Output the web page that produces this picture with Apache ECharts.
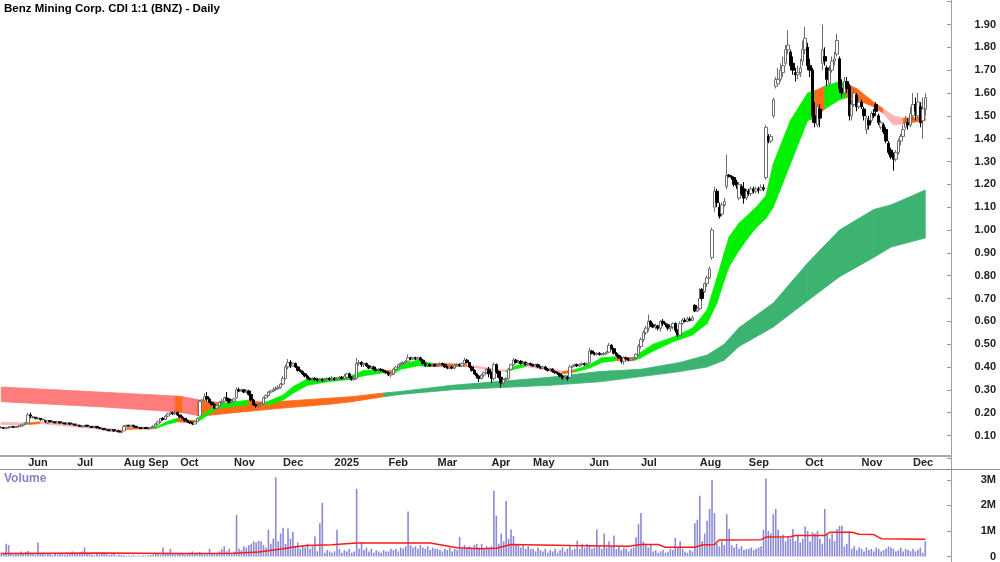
<!DOCTYPE html>
<html>
<head>
<meta charset="utf-8">
<title>BNZ Daily</title>
<script src="https://cdn.jsdelivr.net/npm/echarts@6/dist/echarts.min.js"></script>
<style>
  html, body { margin: 0; padding: 0; background: #fff; }
  #chart { width: 1000px; height: 562px; }
</style>
</head>
<body>
<div id="chart"></div>
<script>
// trading days on the axis; bars stop at day 377, the rest is empty room on the right
var dayCount = 388;
var monthStarts = [11, 31, 50, 60, 73, 95, 115, 136, 158, 178, 200, 217, 240, 261, 285, 305, 328, 351, 372];
var monthLabels = ['Jun', 'Jul', 'Aug', 'Sep', 'Oct', 'Nov', 'Dec', '2025', 'Feb', 'Mar', 'Apr', 'May', 'Jun', 'Jul', 'Aug', 'Sep', 'Oct', 'Nov', 'Dec'];

// daily bars [open, close, low, high]
var candles = [
  // late May 2024
  [0.135,0.135,0.13,0.14],[0.135,0.13,0.13,0.135],[0.13,0.135,0.13,0.135],[0.135,0.135,0.13,0.14],[0.135,0.14,0.135,0.14],
  [0.14,0.135,0.135,0.14],[0.135,0.14,0.135,0.14],[0.14,0.14,0.135,0.145],[0.14,0.145,0.14,0.15],[0.145,0.15,0.14,0.15],[0.15,0.155,0.145,0.16],
  // Jun
  [0.155,0.19,0.15,0.2],[0.19,0.185,0.175,0.2],[0.18,0.18,0.175,0.185],[0.18,0.175,0.17,0.18],[0.175,0.175,0.17,0.18],
  [0.175,0.17,0.165,0.175],[0.17,0.17,0.165,0.175],[0.165,0.16,0.155,0.165],[0.155,0.165,0.15,0.165],[0.165,0.16,0.16,0.165],
  [0.16,0.16,0.155,0.165],[0.16,0.155,0.155,0.16],[0.155,0.16,0.155,0.16],[0.16,0.155,0.15,0.16],[0.155,0.155,0.15,0.16],
  [0.155,0.15,0.15,0.155],[0.15,0.155,0.15,0.155],[0.155,0.15,0.145,0.155],[0.15,0.15,0.145,0.155],[0.15,0.145,0.145,0.15],
  // Jul
  [0.145,0.145,0.14,0.15],[0.145,0.14,0.14,0.145],[0.14,0.14,0.135,0.145],[0.14,0.145,0.135,0.145],[0.145,0.14,0.14,0.145],
  [0.14,0.14,0.135,0.14],[0.14,0.135,0.135,0.14],[0.135,0.14,0.135,0.14],[0.14,0.135,0.13,0.14],[0.135,0.13,0.13,0.135],
  [0.13,0.13,0.125,0.135],[0.13,0.125,0.125,0.13],[0.125,0.125,0.12,0.13],[0.125,0.12,0.12,0.125],[0.12,0.125,0.12,0.125],
  [0.125,0.12,0.115,0.125],[0.12,0.12,0.115,0.12],[0.12,0.115,0.115,0.12],[0.115,0.115,0.11,0.12],
  // Aug
  [0.12,0.14,0.12,0.145],[0.14,0.145,0.14,0.145],[0.145,0.14,0.14,0.145],[0.14,0.145,0.14,0.145],[0.145,0.14,0.135,0.145],
  [0.14,0.135,0.135,0.14],[0.135,0.135,0.13,0.135],[0.135,0.13,0.13,0.135],[0.13,0.135,0.13,0.135],[0.135,0.13,0.13,0.135],
  // Sep
  [0.13,0.13,0.125,0.135],[0.13,0.135,0.13,0.135],[0.135,0.14,0.13,0.145],[0.14,0.15,0.14,0.155],[0.15,0.16,0.145,0.165],
  [0.16,0.175,0.155,0.175],[0.175,0.17,0.165,0.18],[0.17,0.185,0.17,0.19],[0.185,0.195,0.18,0.2],[0.195,0.2,0.19,0.205],
  [0.2,0.195,0.19,0.205],[0.195,0.2,0.19,0.21],[0.2,0.19,0.185,0.205],
  // Oct
  [0.19,0.18,0.175,0.19],[0.18,0.175,0.17,0.185],[0.175,0.165,0.16,0.175],[0.165,0.16,0.155,0.17],[0.16,0.155,0.15,0.16],
  [0.155,0.15,0.145,0.16],[0.15,0.16,0.15,0.165],[0.16,0.175,0.16,0.18],[0.185,0.25,0.185,0.255],[0.25,0.255,0.24,0.26],
  [0.255,0.27,0.25,0.285],[0.27,0.26,0.25,0.29],[0.26,0.245,0.24,0.265],[0.245,0.235,0.23,0.25],[0.235,0.22,0.215,0.24],
  [0.22,0.23,0.215,0.235],[0.23,0.245,0.225,0.25],[0.245,0.25,0.24,0.26],[0.25,0.265,0.245,0.27],[0.265,0.26,0.25,0.29],
  [0.26,0.245,0.24,0.265],[0.245,0.25,0.24,0.26],
  // Nov
  [0.25,0.26,0.245,0.265],[0.265,0.3,0.26,0.31],[0.3,0.295,0.29,0.31],[0.295,0.3,0.29,0.305],[0.3,0.29,0.285,0.3],
  [0.29,0.295,0.285,0.3],[0.295,0.28,0.275,0.3],[0.28,0.255,0.25,0.28],[0.255,0.235,0.23,0.26],[0.235,0.23,0.22,0.24],
  [0.23,0.235,0.22,0.24],[0.235,0.24,0.23,0.245],[0.24,0.265,0.235,0.27],[0.265,0.275,0.26,0.28],[0.275,0.29,0.27,0.295],
  [0.29,0.295,0.285,0.3],[0.295,0.3,0.29,0.31],[0.3,0.305,0.295,0.315],[0.305,0.31,0.3,0.32],[0.31,0.325,0.305,0.33],
  // Dec
  [0.325,0.35,0.32,0.36],[0.35,0.4,0.345,0.41],[0.4,0.42,0.39,0.435],[0.42,0.405,0.395,0.43],[0.405,0.415,0.4,0.42],
  [0.415,0.4,0.395,0.42],[0.4,0.385,0.38,0.405],[0.385,0.38,0.375,0.39],[0.38,0.37,0.365,0.385],[0.37,0.36,0.355,0.375],
  [0.36,0.35,0.345,0.365],[0.35,0.345,0.34,0.355],[0.345,0.35,0.34,0.355],[0.35,0.345,0.34,0.355],[0.345,0.34,0.335,0.35],
  [0.34,0.345,0.335,0.35],[0.345,0.34,0.335,0.35],[0.34,0.345,0.335,0.35],[0.345,0.35,0.34,0.355],[0.35,0.345,0.34,0.355],
  [0.345,0.35,0.34,0.36],
  // Jan 2025
  [0.35,0.345,0.34,0.355],[0.345,0.35,0.34,0.355],[0.35,0.355,0.345,0.36],[0.355,0.35,0.345,0.36],[0.35,0.36,0.345,0.37],
  [0.355,0.37,0.345,0.375],[0.37,0.355,0.35,0.375],[0.355,0.345,0.34,0.36],[0.345,0.35,0.34,0.36],[0.35,0.415,0.345,0.44],
  [0.415,0.42,0.405,0.43],[0.42,0.41,0.4,0.425],[0.41,0.415,0.4,0.42],[0.415,0.405,0.4,0.42],[0.405,0.395,0.39,0.41],
  [0.395,0.4,0.39,0.405],[0.4,0.39,0.385,0.405],[0.39,0.385,0.38,0.395],[0.385,0.39,0.38,0.395],[0.39,0.385,0.38,0.395],
  [0.385,0.38,0.375,0.39],[0.38,0.375,0.37,0.385],
  // Feb
  [0.375,0.365,0.36,0.38],[0.365,0.37,0.355,0.375],[0.37,0.39,0.365,0.395],[0.39,0.4,0.385,0.405],[0.4,0.41,0.395,0.415],
  [0.41,0.415,0.405,0.42],[0.415,0.42,0.41,0.425],[0.42,0.425,0.415,0.43],[0.425,0.44,0.42,0.455],[0.44,0.435,0.43,0.445],
  [0.435,0.44,0.43,0.445],[0.44,0.435,0.43,0.445],[0.435,0.44,0.43,0.445],[0.44,0.43,0.425,0.445],[0.43,0.415,0.41,0.435],
  [0.415,0.405,0.4,0.42],[0.405,0.41,0.4,0.415],[0.41,0.405,0.4,0.415],[0.405,0.41,0.4,0.415],[0.41,0.405,0.4,0.415],
  // Mar
  [0.405,0.41,0.4,0.415],[0.41,0.415,0.405,0.42],[0.415,0.41,0.405,0.42],[0.41,0.4,0.395,0.415],[0.4,0.395,0.39,0.405],
  [0.395,0.4,0.39,0.405],[0.4,0.395,0.39,0.405],[0.395,0.405,0.39,0.41],[0.405,0.41,0.4,0.415],[0.41,0.405,0.4,0.415],
  [0.405,0.415,0.4,0.42],[0.415,0.43,0.41,0.44],[0.43,0.42,0.415,0.435],[0.42,0.4,0.395,0.42],[0.4,0.385,0.38,0.405],
  [0.385,0.37,0.365,0.39],[0.37,0.36,0.35,0.375],[0.36,0.35,0.335,0.365],[0.35,0.365,0.345,0.37],[0.365,0.375,0.355,0.38],
  [0.375,0.39,0.37,0.395],[0.39,0.37,0.355,0.4],
  // Apr
  [0.37,0.35,0.33,0.38],[0.35,0.41,0.34,0.42],[0.41,0.38,0.37,0.415],[0.38,0.355,0.35,0.385],[0.355,0.33,0.31,0.36],
  [0.33,0.345,0.32,0.35],[0.345,0.35,0.34,0.355],[0.35,0.39,0.345,0.395],[0.39,0.41,0.385,0.415],[0.41,0.43,0.405,0.44],
  [0.43,0.42,0.415,0.435],[0.42,0.425,0.415,0.43],[0.425,0.415,0.41,0.43],[0.415,0.42,0.41,0.425],[0.42,0.41,0.405,0.425],
  [0.41,0.415,0.405,0.42],[0.415,0.41,0.405,0.42],
  // May
  [0.41,0.405,0.4,0.415],[0.405,0.41,0.4,0.415],[0.41,0.4,0.395,0.415],[0.4,0.395,0.39,0.405],[0.395,0.4,0.39,0.405],
  [0.4,0.39,0.385,0.405],[0.39,0.385,0.38,0.395],[0.385,0.39,0.38,0.395],[0.39,0.38,0.375,0.395],[0.38,0.375,0.37,0.385],
  [0.375,0.37,0.365,0.38],[0.37,0.36,0.355,0.375],[0.36,0.35,0.345,0.365],[0.35,0.355,0.345,0.36],[0.355,0.35,0.34,0.36],
  [0.355,0.4,0.35,0.41],[0.4,0.405,0.395,0.41],[0.405,0.41,0.4,0.415],[0.41,0.405,0.4,0.415],[0.405,0.41,0.4,0.415],
  [0.41,0.415,0.405,0.42],[0.415,0.41,0.405,0.42],[0.41,0.415,0.405,0.42],
  // Jun
  [0.42,0.47,0.415,0.485],[0.47,0.46,0.455,0.475],[0.46,0.455,0.45,0.465],[0.455,0.46,0.45,0.465],[0.46,0.455,0.45,0.465],
  [0.455,0.455,0.45,0.46],[0.455,0.46,0.45,0.465],[0.46,0.465,0.455,0.47],[0.465,0.495,0.46,0.505],[0.495,0.48,0.475,0.5],
  [0.48,0.46,0.455,0.485],[0.46,0.45,0.445,0.465],[0.45,0.44,0.435,0.455],[0.44,0.425,0.415,0.445],[0.425,0.44,0.41,0.445],
  [0.44,0.435,0.43,0.445],[0.435,0.43,0.425,0.44],[0.43,0.435,0.425,0.44],[0.435,0.44,0.43,0.445],[0.44,0.455,0.43,0.46],
  [0.455,0.49,0.45,0.5],
  // Jul
  [0.49,0.52,0.48,0.53],[0.52,0.55,0.51,0.56],[0.55,0.57,0.54,0.58],[0.57,0.6,0.555,0.63],[0.6,0.585,0.575,0.605],
  [0.585,0.575,0.57,0.595],[0.575,0.58,0.565,0.59],[0.58,0.57,0.56,0.585],[0.57,0.6,0.555,0.605],[0.6,0.59,0.58,0.61],
  [0.59,0.585,0.575,0.595],[0.585,0.57,0.56,0.59],[0.57,0.575,0.555,0.58],[0.575,0.59,0.565,0.595],[0.59,0.56,0.55,0.595],
  [0.56,0.54,0.53,0.565],[0.54,0.59,0.535,0.6],[0.59,0.605,0.585,0.615],[0.605,0.6,0.595,0.615],[0.6,0.61,0.595,0.62],
  [0.61,0.605,0.6,0.62],[0.605,0.615,0.6,0.625],[0.67,0.645,0.64,0.675],[0.645,0.655,0.64,0.665],
  // Aug
  [0.655,0.7,0.65,0.745],[0.74,0.7,0.69,0.745],[0.73,0.765,0.725,0.77],[0.765,0.79,0.75,0.8],[0.79,0.83,0.785,0.84],
  [0.88,1.0,0.87,1.01],[1.1,1.17,1.08,1.19],[1.17,1.12,1.1,1.18],[1.1,1.06,1.05,1.12],[1.07,1.11,1.06,1.12],
  [1.11,1.125,1.1,1.14],[1.19,1.24,1.18,1.33],[1.24,1.235,1.23,1.245],[1.235,1.23,1.22,1.24],[1.23,1.2,1.19,1.235],
  [1.21,1.195,1.18,1.22],[1.14,1.2,1.13,1.21],[1.19,1.16,1.15,1.2],[1.18,1.14,1.115,1.21],[1.14,1.17,1.13,1.18],
  // Sep
  [1.17,1.16,1.15,1.18],[1.16,1.18,1.15,1.19],[1.18,1.17,1.16,1.19],[1.17,1.18,1.16,1.19],[1.18,1.175,1.16,1.19],
  [1.175,1.185,1.17,1.2],[1.185,1.18,1.17,1.2],[1.23,1.45,1.22,1.46],[1.41,1.39,1.38,1.42],[1.39,1.41,1.38,1.42],
  [1.5,1.57,1.49,1.58],[1.63,1.66,1.62,1.67],[1.64,1.66,1.63,1.71],[1.66,1.7,1.65,1.73],[1.69,1.72,1.67,1.76],
  [1.73,1.79,1.72,1.81],[1.79,1.81,1.77,1.875],[1.78,1.72,1.7,1.79],[1.73,1.7,1.68,1.76],[1.69,1.68,1.65,1.71],
  [1.68,1.69,1.66,1.72],[1.69,1.71,1.67,1.75],[1.74,1.79,1.72,1.83],
  // Oct
  [1.79,1.84,1.77,1.89],[1.8,1.72,1.7,1.82],[1.72,1.7,1.67,1.75],[1.7,1.5,1.47,1.71],[1.5,1.47,1.45,1.56],
  [1.46,1.54,1.45,1.55],[1.53,1.49,1.45,1.55],[1.73,1.79,1.7,1.9],[1.76,1.74,1.72,1.8],[1.71,1.66,1.63,1.72],
  [1.64,1.7,1.63,1.72],[1.7,1.74,1.69,1.76],[1.74,1.75,1.72,1.78],[1.77,1.83,1.76,1.86],[1.75,1.62,1.6,1.76],
  [1.62,1.6,1.58,1.66],[1.6,1.65,1.59,1.67],[1.65,1.62,1.6,1.67],[1.63,1.5,1.48,1.64],[1.5,1.55,1.48,1.57],
  [1.55,1.6,1.54,1.62],[1.59,1.54,1.52,1.6],[1.54,1.56,1.53,1.58],
  // Nov
  [1.56,1.54,1.53,1.57],[1.53,1.5,1.48,1.54],[1.44,1.49,1.42,1.5],[1.48,1.46,1.44,1.5],[1.48,1.51,1.47,1.52],
  [1.51,1.5,1.49,1.53],[1.55,1.52,1.51,1.56],[1.5,1.47,1.46,1.51],[1.45,1.47,1.44,1.48],[1.46,1.43,1.42,1.47],
  [1.44,1.39,1.38,1.45],[1.38,1.34,1.33,1.39],[1.35,1.32,1.31,1.36],[1.33,1.31,1.26,1.34],[1.31,1.34,1.3,1.35],
  [1.34,1.39,1.33,1.4],[1.39,1.41,1.37,1.42],[1.41,1.44,1.4,1.46],[1.45,1.47,1.44,1.5],[1.47,1.46,1.44,1.49],
  [1.46,1.51,1.45,1.54],
  // Dec
  [1.5,1.55,1.48,1.6],[1.55,1.52,1.48,1.58],[1.5,1.56,1.49,1.6],[1.54,1.47,1.45,1.56],[1.48,1.53,1.4,1.58],
  [1.53,1.58,1.5,1.6]
];

// daily volume, millions of shares
var volumeM = [
  0.15,0.1,0.5,0.45,0.12,0.08,0.15,0.1,0.2,0.12,0.18,
  0.22,0.15,0.1,0.08,0.55,0.12,0.1,0.08,0.12,0.1,0.06,0.1,0.08,0.12,0.1,0.08,0.15,0.1,0.2,0.12,
  0.1,0.15,0.2,0.35,0.1,0.12,0.08,0.05,0.1,0.08,0.15,0.12,0.1,0.06,0.08,0.1,0.05,0.08,0.06,
  0.05,0.03,0.04,0.03,0.05,0.02,0.04,0.03,0.05,0.04,
  0.05,0.06,0.08,0.1,0.12,0.08,0.35,0.1,0.15,0.3,0.1,0.08,0.12,
  0.1,0.12,0.08,0.1,0.15,0.2,0.1,0.15,0.18,0.12,0.1,0.08,0.3,0.12,0.1,0.15,0.2,0.28,0.4,0.2,0.3,0.15,
  0.2,1.63,0.3,0.25,0.4,0.35,0.45,0.5,0.6,0.55,0.62,0.6,0.45,0.35,1.05,0.5,0.7,3.1,0.6,0.9,
  1.13,0.5,1.1,0.7,0.97,0.4,0.55,0.3,0.45,0.35,0.5,0.3,0.4,0.78,0.2,1.3,2.1,0.15,0.25,0.2,0.15,
  0.2,1.05,0.3,0.15,0.25,0.2,0.3,0.15,0.2,2.65,0.3,0.55,0.25,0.35,0.2,0.3,0.15,0.25,0.2,0.15,0.25,0.2,
  0.2,0.3,0.25,0.3,0.2,0.35,0.3,0.4,1.76,0.45,0.35,0.4,0.3,0.45,0.35,0.3,0.4,0.25,0.35,0.3,
  0.3,0.25,0.2,0.3,0.25,0.35,0.2,0.3,0.25,0.77,0.3,0.45,0.35,0.4,0.3,0.45,0.5,0.35,0.5,0.3,0.4,0.35,
  0.4,2.58,1.6,0.5,0.9,0.6,2.17,0.7,1.06,0.8,0.45,0.5,0.35,0.45,0.3,0.4,0.3,
  0.3,0.2,0.35,0.25,0.2,0.3,0.15,0.25,0.2,0.3,0.15,0.25,0.35,0.2,0.3,0.4,0.25,0.3,0.62,0.3,0.5,0.35,0.5,
  0.45,0.3,0.35,1.06,0.4,0.3,0.9,0.35,0.6,0.4,0.82,0.3,0.4,0.25,0.35,0.3,0.2,0.3,0.35,0.75,1.28,
  1.7,0.58,0.5,0.35,0.45,0.2,0.25,0.15,0.2,0.25,0.15,0.2,0.3,0.25,0.73,0.35,0.6,0.3,0.2,0.15,0.25,0.2,1.3,1.44,
  2.38,0.6,0.9,1.4,1.86,3.0,1.7,0.5,0.4,0.6,0.45,1.66,1.08,0.45,0.35,0.5,0.3,0.4,0.25,0.3,
  0.3,0.35,0.25,0.3,0.35,0.4,1.05,3.06,1.0,0.9,1.66,1.86,1.05,0.75,0.85,0.6,0.8,0.7,1.08,0.6,0.8,0.55,0.7,
  1.18,1.0,0.6,0.95,0.9,1.0,0.7,0.5,1.86,0.9,0.7,0.9,0.6,1.08,1.2,1.2,0.4,0.5,0.98,0.3,0.4,0.25,0.35,
  0.3,0.2,0.35,0.25,0.3,0.2,0.35,0.3,0.2,0.25,0.3,0.4,0.35,0.3,0.2,0.25,0.35,0.2,0.3,0.25,0.2,0.3,0.2,0.25,0.35,0.15,0.6
];

// volume average (red line): [day, millions]
var volumeAvg = [
  [0,0.12],[40,0.14],[75,0.12],[95,0.13],[105,0.18],[115,0.3],[120,0.38],[125,0.43],[135,0.46],[145,0.53],
  [175,0.53],[186,0.34],[195,0.3],[202,0.32],[208,0.47],[232,0.43],[256,0.4],[261,0.47],[268,0.47],[271,0.36],
  [283,0.36],[286,0.45],[291,0.47],[293,0.65],[310,0.66],[312,0.76],[322,0.77],[324,0.82],[336,0.82],[338,0.95],
  [347,0.95],[350,0.87],[356,0.86],[359,0.7],[377,0.68]
];

// guppy ribbons: [day, lower edge, upper edge, trend]
var shortRibbon = [
  [0,0.148,0.157,'fall'],[11,0.148,0.155,'turn'],[16,0.152,0.16,'fall'],[30,0.138,0.146,'fall'],[49,0.117,0.125,'fall'],
  [51,0.127,0.133,'turn'],[63,0.13,0.136,'rise'],[68,0.15,0.162,'rise'],[72,0.16,0.175,'turn'],[76,0.157,0.168,'turn'],
  [79,0.155,0.165,'rise'],[82,0.172,0.188,'rise'],[88,0.218,0.235,'rise'],[96,0.228,0.248,'rise'],[101,0.236,0.255,'turn'],
  [104,0.228,0.248,'turn'],[108,0.23,0.245,'rise'],[115,0.255,0.277,'rise'],[119,0.285,0.313,'rise'],[125,0.32,0.348,'rise'],
  [133,0.335,0.35,'rise'],[142,0.345,0.358,'rise'],[148,0.362,0.385,'rise'],[156,0.375,0.387,'turn'],[160,0.37,0.382,'rise'],
  [163,0.39,0.41,'rise'],[170,0.405,0.43,'rise'],[176,0.402,0.415,'turn'],[186,0.405,0.413,'turn'],[190,0.402,0.41,'fall'],
  [199,0.388,0.395,'fall'],[206,0.38,0.385,'rise'],[210,0.392,0.405,'rise'],[214,0.402,0.412,'fall'],[226,0.382,0.39,'fall'],
  [229,0.37,0.38,'turn'],[234,0.378,0.388,'rise'],[240,0.395,0.41,'rise'],[245,0.42,0.44,'rise'],[251,0.428,0.445,'turn'],
  [258,0.428,0.44,'rise'],[261,0.44,0.465,'rise'],[266,0.47,0.5,'rise'],[274,0.51,0.53,'rise'],[282,0.54,0.57,'rise'],
  [288,0.59,0.65,'rise'],[292,0.68,0.79,'rise'],[295,0.78,0.9,'rise'],[297,0.84,0.97,'rise'],[301,0.91,1.03,'rise'],
  [305,0.97,1.07,'rise'],[308,1.01,1.1,'rise'],[312,1.05,1.15,'rise'],[315,1.1,1.29,'rise'],[322,1.29,1.48,'rise'],
  [329,1.48,1.6,'rise'],[332,1.49,1.61,'turn'],[336,1.53,1.63,'rise'],[342,1.57,1.65,'rise'],[345,1.58,1.64,'turn'],
  [349,1.57,1.62,'turn'],[356,1.54,1.56,'turn'],[360,1.51,1.53,'fall'],[364,1.46,1.5,'fall'],[368,1.465,1.49,'turn'],
  [377,1.48,1.495,'turn']
];
var longRibbon = [
  [0,0.248,0.312,'fall'],[40,0.226,0.29,'fall'],[71,0.204,0.273,'turn'],[74,0.2,0.27,'fall'],[80,0.188,0.258,'turn'],
  [82,0.185,0.25,'turn'],[95,0.2,0.24,'turn'],[115,0.22,0.25,'turn'],[135,0.238,0.264,'turn'],[143,0.248,0.27,'turn'],
  [156,0.27,0.286,'rise'],[163,0.28,0.293,'rise'],[184,0.3,0.32,'rise'],[224,0.32,0.355,'rise'],[244,0.335,0.38,'rise'],
  [261,0.358,0.39,'rise'],[277,0.38,0.42,'rise'],[288,0.4,0.452,'rise'],[295,0.43,0.5,'rise'],[301,0.49,0.572,'rise'],
  [315,0.575,0.68,'rise'],[329,0.69,0.855,'rise'],[342,0.795,1.0,'rise'],[356,0.88,1.09,'rise'],[363,0.925,1.11,'rise'],
  [377,0.965,1.175,'rise']
];

var shortColors = { fall: '#ffb3b3', turn: '#ff6a1a', rise: '#00f000' };
var longColors = { fall: '#ff7c7c', turn: '#ff6a1a', rise: '#3cb371' };

var font = "'Liberation Sans', Arial, sans-serif";
var days = [];
for (var d = 0; d < dayCount; d++) days.push(String(d));

function isMonthStart(index) {
  return monthStarts.indexOf(index) >= 0;
}

// one polygon per stretch between two read points of a ribbon
function ribbon(rows, colors) {
  return {
    type: 'custom',
    xAxisIndex: 0,
    yAxisIndex: 0,
    silent: true,
    data: rows.map(function (r) { return [r[0], r[1], r[2]]; }),
    encode: { x: 0, y: [1, 2] },
    renderItem: function (params, api) {
      var i = params.dataIndex;
      if (i >= rows.length - 1) return null;
      var a = rows[i], b = rows[i + 1];
      var c = colors[a[3]];
      return {
        type: 'polygon',
        shape: { points: [
          api.coord([a[0], a[1]]), api.coord([b[0], b[1]]),
          api.coord([b[0], b[2]]), api.coord([a[0], a[2]])
        ] },
        style: { fill: c, stroke: c, lineWidth: 0.8 }
      };
    }
  };
}

var chart = echarts.init(document.getElementById('chart'));
chart.setOption({
  animation: false,
  backgroundColor: '#fff',
  textStyle: { fontFamily: font },
  title: [
    { text: 'Benz Mining Corp. CDI 1:1 (BNZ) - Daily', left: -1, top: -2,
      textStyle: { fontSize: 11.5, fontWeight: 'bold', color: '#000', fontFamily: font } },
    { text: 'Volume', left: -1, top: 468,
      textStyle: { fontSize: 12, fontWeight: 'bold', color: '#8585c8', fontFamily: font } }
  ],
  grid: [
    { left: 0, right: 49, top: 1.7, height: 456.6 },
    { left: 0, right: 49, top: 469.7, height: 87.3 }
  ],
  xAxis: [
    {
      type: 'category', gridIndex: 0, data: days, boundaryGap: true, offset: -3,
      axisLine: { lineStyle: { color: '#a8a8a8', width: 2 } },
      axisTick: { inside: true, length: 3, interval: function (i) { return isMonthStart(i); },
        lineStyle: { color: '#888' } },
      axisLabel: {
        interval: function (i) { return isMonthStart(i); },
        formatter: function (v, i) { return monthLabels[monthStarts.indexOf(i)] || ''; },
        align: 'left', margin: 2, fontSize: 11, fontWeight: 'bold', color: '#222', fontFamily: font
      },
      splitLine: { show: false }
    },
    {
      type: 'category', gridIndex: 1, data: days, boundaryGap: true,
      axisLine: { show: false }, axisTick: { show: false }, axisLabel: { show: false }, splitLine: { show: false }
    }
  ],
  yAxis: [
    {
      type: 'value', gridIndex: 0, position: 'right', min: 0, max: 2, interval: 0.1,
      axisLine: { show: false },
      axisTick: { show: true, inside: true, length: 4, lineStyle: { color: '#999' } },
      axisLabel: {
        formatter: function (v) { return (v < 0.05 || v > 1.95) ? '' : v.toFixed(2); },
        align: 'right', margin: 45, fontSize: 11, fontWeight: 'bold', color: '#222', fontFamily: font
      },
      splitLine: { show: false }
    },
    {
      type: 'value', gridIndex: 1, position: 'right', min: 0, max: 3.4, interval: 1,
      axisLine: { show: false },
      axisTick: { show: true, inside: true, length: 4, lineStyle: { color: '#999' } },
      axisLabel: {
        formatter: function (v) {
          if (v === 0) return '0';
          return Math.abs(v - Math.round(v)) < 1e-6 ? v + 'M' : '';
        },
        showMaxLabel: false,
        align: 'right', margin: 45, fontSize: 11, fontWeight: 'bold', color: '#222', fontFamily: font
      },
      splitLine: { show: false }
    }
  ],
  graphic: [
    { type: 'line', shape: { x1: 951.5, y1: 0, x2: 951.5, y2: 562 }, style: { stroke: '#a0a0a0', lineWidth: 1 }, silent: true },
    { type: 'line', shape: { x1: 0, y1: 469.5, x2: 1000, y2: 469.5 }, style: { stroke: '#8c8c8c', lineWidth: 1 }, silent: true }
  ],
  series: [
    ribbon(longRibbon, longColors),
    ribbon(shortRibbon, shortColors),
    {
      type: 'candlestick',
      xAxisIndex: 0, yAxisIndex: 0,
      data: candles,
      barWidth: 3,
      itemStyle: {
        color: '#ffffff', color0: '#000000',
        borderColor: '#6e6e6e', borderColor0: '#000000', borderColorDoji: '#555555',
        borderWidth: 1
      }
    },
    {
      type: 'bar',
      xAxisIndex: 1, yAxisIndex: 1,
      data: volumeM,
      barWidth: 1.6,
      itemStyle: { color: '#8a8ad6' }
    },
    {
      type: 'line',
      xAxisIndex: 1, yAxisIndex: 1,
      data: volumeAvg,
      showSymbol: false,
      lineStyle: { color: '#ff1a1a', width: 1.5 }
    }
  ]
});
</script>
</body>
</html>
